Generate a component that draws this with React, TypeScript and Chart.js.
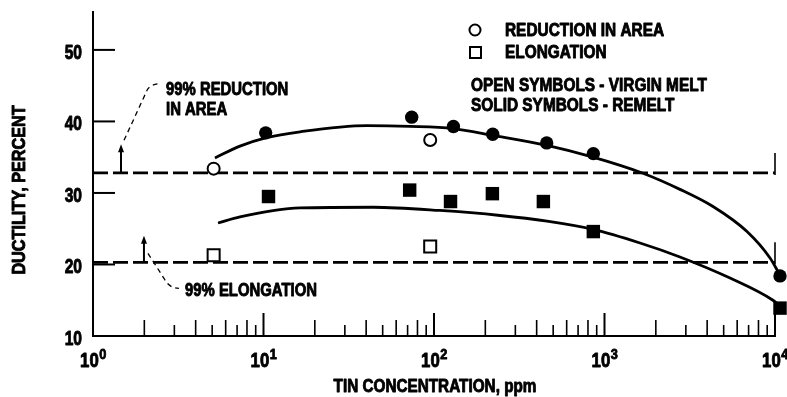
import React, { useEffect, useRef } from "react";
import { Chart, registerables } from "chart.js";

Chart.register(...registerables);

// ---- data ----
// remelt (solid symbols)
const remeltRAConc = [10.3, 74, 130, 221, 458, 860, 10700];
const remeltRA = [38.4, 40.6, 39.3, 38.2, 37.0, 35.5, 18.4];
const remeltElConc = [10.7, 72, 125, 220, 438, 860, 10700];
const remeltEl = [29.5, 30.4, 28.8, 29.9, 28.8, 24.6, 13.9];
// virgin melt (open symbols)
const virginRAConc = [5.1, 95];
const virginRA = [33.4, 37.4];
const virginElConc = [5.1, 95];
const virginEl = [21.3, 22.5];
// faired curves
const raCurveConc = [5.19, 7.28, 10.3, 16.4, 40.5, 72.3, 129, 222, 460, 856, 1680, 2770, 4330, 6850, 9350, 10700];
const raCurve = [34.9, 36.55, 37.7, 38.55, 39.4, 39.3, 39.0, 38.05, 36.65, 35.0, 32.75, 30.5, 28.1, 24.6, 20.9, 18.5];
const elCurveConc = [5.41, 7.28, 16.4, 43.9, 108, 244, 460, 856, 1615, 2770, 5450, 9730, 10700];
const elCurve = [25.8, 26.65, 27.9, 28.0, 27.55, 26.85, 26.05, 24.9, 23.0, 21.05, 18.1, 15.0, 14.2];
// 99% limit lines
const limitConc = [1, 10000];
const raLimit = 32.8;
const elLimit = 20.3;
const raArrowConc = 1.46;
const elArrowConc = 1.99;
const raArrowTop = 36.8;
const elArrowTop = 24.0;

// axes
const xMin = 1;
const xMax = 10000;
const yMin = 10;
const yMax = 55.3;
const yTickLabels = [10, 20, 30, 40, 50];
const xTickExponents = [0, 1, 2, 3, 4];

const xTitle = "TIN CONCENTRATION, ppm";
const yTitle = "DUCTILITY, PERCENT";
const raNote = ["99% REDUCTION", "IN AREA"];
const elNote = "99% ELONGATION";
const legendLines = ["REDUCTION IN AREA", "ELONGATION", "OPEN SYMBOLS - VIRGIN MELT", "SOLID SYMBOLS - REMELT"];

const FONT = '"Liberation Sans", Arial, sans-serif';

const pts = (xs: number[], ys: number[]) => xs.map((x, i) => ({ x, y: ys[i] }));

const decorPlugin = {
  id: "decor",
  afterDraw(chart: any) {
    const ctx: CanvasRenderingContext2D = chart.ctx;
    const xs = chart.scales.x;
    const ys = chart.scales.y;
    const { left, bottom } = chart.chartArea;
    const X = (v: number) => xs.getPixelForValue(v);
    const Y = (v: number) => ys.getPixelForValue(v);
    const line = (x1: number, y1: number, x2: number, y2: number) => {
      ctx.beginPath();
      ctx.moveTo(x1, y1);
      ctx.lineTo(x2, y2);
      ctx.stroke();
    };
    // narrow lettering: horizontally condensed, slightly emboldened text
    const txt = (
      s: string,
      x: number,
      y: number,
      size: number,
      squeeze: number,
      align: CanvasTextAlign = "left",
      rotate = false
    ) => {
      ctx.save();
      ctx.translate(x, y);
      if (rotate) ctx.rotate(-Math.PI / 2);
      ctx.scale(squeeze, 1);
      ctx.font = `bold ${size}px ${FONT}`;
      ctx.textAlign = align;
      ctx.textBaseline = "alphabetic";
      ctx.lineWidth = 0.9;
      ctx.lineJoin = "round";
      ctx.fillText(s, 0, 0);
      ctx.strokeText(s, 0, 0);
      ctx.restore();
    };
    const measure = (s: string, size: number, squeeze: number) => {
      ctx.font = `bold ${size}px ${FONT}`;
      return ctx.measureText(s).width * squeeze;
    };

    ctx.save();
    ctx.strokeStyle = "#000";
    ctx.fillStyle = "#000";
    ctx.lineCap = "butt";

    // inward y ticks + labels
    ctx.lineWidth = 2;
    for (const v of yTickLabels) {
      const py = Y(v);
      if (v !== yMin) {
        ctx.lineWidth = 2;
        line(left, py, left + 22, py);
      }
      txt(String(v), left - 11, py + 9, 19.5, 0.8, "right");
    }
    // inward x ticks
    for (let e = 0; e < 4; e++) {
      for (let m = 2; m <= 9; m++) {
        const px = X(m * Math.pow(10, e));
        ctx.lineWidth = 1.6;
        line(px, bottom, px, bottom - (m % 2 === 0 ? 16 : 11));
      }
    }
    ctx.lineWidth = 2;
    for (const e of xTickExponents) {
      if (e === 0) continue;
      const px = X(Math.pow(10, e));
      line(px, bottom, px, bottom - 23);
    }

    // x tick labels with superscripts
    for (const e of xTickExponents) {
      const px = X(Math.pow(10, e));
      const wb = measure("10", 21, 0.8);
      const we = measure(String(e), 15, 0.85);
      const x0 = px - (wb + we) / 2;
      txt("10", x0, bottom + 31, 21, 0.8);
      txt(String(e), x0 + wb + 0.5, bottom + 23, 15, 0.85);
    }

    // axis titles
    txt(xTitle, 435, 392, 18, 0.85, "center");
    txt(yTitle, 25, 190, 18, 0.9, "center", true);

    // end ticks of the limit lines
    ctx.lineWidth = 1.6;
    line(X(xMax), Y(raLimit) - 20, X(xMax), Y(raLimit) + 2);
    line(X(xMax), Y(elLimit) - 20, X(xMax), Y(elLimit) + 2);

    // arrows
    const arrow = (cx: number, yFrom: number, yTo: number) => {
      const px = X(cx);
      const p1 = Y(yFrom);
      const p2 = Y(yTo);
      ctx.lineWidth = 2;
      line(px, p1, px, p2 + 6);
      ctx.beginPath();
      ctx.moveTo(px, p2);
      ctx.lineTo(px - 3, p2 + 8);
      ctx.lineTo(px + 3, p2 + 8);
      ctx.closePath();
      ctx.fill();
    };
    arrow(raArrowConc, raLimit, raArrowTop);
    arrow(elArrowConc, elLimit, elArrowTop);

    // leader lines (dashed)
    ctx.lineWidth = 1.3;
    ctx.setLineDash([5, 4]);
    const ax1 = X(raArrowConc);
    const ay1 = Y(raArrowTop);
    ctx.beginPath();
    ctx.moveTo(ax1 + 3, ay1 - 4);
    ctx.lineTo(ax1 + 26, ay1 - 54);
    ctx.quadraticCurveTo(ax1 + 29, ay1 - 60, ax1 + 40, ay1 - 61);
    ctx.stroke();
    const ax2 = X(elArrowConc);
    const ay2 = Y(elLimit);
    ctx.beginPath();
    ctx.moveTo(ax2 + 4, ay2 - 9);
    ctx.lineTo(ax2 + 20, ay2 + 16);
    ctx.quadraticCurveTo(ax2 + 25, ay2 + 26, ax2 + 35, ay2 + 26);
    ctx.stroke();
    ctx.setLineDash([]);

    // annotation text
    txt(raNote[0], 166, 95, 17.5, 0.85);
    txt(raNote[1], 166, 115, 17.5, 0.85);
    txt(elNote, 185, 296, 17.5, 0.85);

    // legend
    ctx.lineWidth = 2;
    ctx.beginPath();
    ctx.arc(475, 30, 5.5, 0, Math.PI * 2);
    ctx.stroke();
    ctx.strokeRect(470, 47, 11, 11);
    txt(legendLines[0], 505, 36, 17.5, 0.88);
    txt(legendLines[1], 505, 58, 17.5, 0.88);
    txt(legendLines[2], 471, 91, 17.5, 0.88);
    txt(legendLines[3], 471, 111, 17.5, 0.88);
    ctx.restore();
  },
};

export default function App() {
  const ref = useRef<HTMLCanvasElement | null>(null);
  useEffect(() => {
    if (!ref.current) return;
    const black = "#000";
    const chart = new Chart(ref.current, {
      type: "scatter",
      data: {
        datasets: [
          {
            data: pts(remeltRAConc, remeltRA),
            pointStyle: "circle",
            pointRadius: 6.7,
            backgroundColor: black,
            borderColor: black,
            borderWidth: 0,
            clip: false,
          },
          {
            data: pts(remeltElConc, remeltEl),
            pointStyle: "rect",
            pointRadius: 9.5,
            backgroundColor: black,
            borderColor: black,
            borderWidth: 0,
            clip: false,
          },
          {
            data: pts(virginRAConc, virginRA),
            pointStyle: "circle",
            pointRadius: 6,
            backgroundColor: "#fff",
            borderColor: black,
            borderWidth: 2,
          },
          {
            data: pts(virginElConc, virginEl),
            pointStyle: "rect",
            pointRadius: 8.5,
            backgroundColor: "#fff",
            borderColor: black,
            borderWidth: 2,
          },
          {
            data: pts(raCurveConc, raCurve),
            showLine: true,
            pointRadius: 0,
            borderColor: black,
            borderWidth: 2.8,
            cubicInterpolationMode: "monotone",
            clip: false,
          },
          {
            data: pts(elCurveConc, elCurve),
            showLine: true,
            pointRadius: 0,
            borderColor: black,
            borderWidth: 2.8,
            cubicInterpolationMode: "monotone",
            clip: false,
          },
          {
            data: pts(limitConc, [raLimit, raLimit]),
            showLine: true,
            pointRadius: 0,
            borderColor: black,
            borderWidth: 2.8,
            borderDash: [15, 5],
          },
          {
            data: pts(limitConc, [elLimit, elLimit]),
            showLine: true,
            pointRadius: 0,
            borderColor: black,
            borderWidth: 2.8,
            borderDash: [15, 5],
          },
        ],
      },
      options: {
        animation: false,
        responsive: false,
        devicePixelRatio: 1,
        layout: { padding: { top: 12, right: 12, left: 0, bottom: 0 } },
        plugins: { legend: { display: false }, tooltip: { enabled: false } },
        scales: {
          x: {
            type: "logarithmic",
            min: xMin,
            max: xMax,
            ticks: { display: false },
            grid: { drawOnChartArea: false, drawTicks: false },
            border: { display: true, color: black, width: 2 },
            afterFit: (s: any) => {
              s.height = 61;
            },
          },
          y: {
            type: "linear",
            min: yMin,
            max: yMax,
            ticks: { display: false, stepSize: 10 },
            grid: { drawOnChartArea: false, drawTicks: false },
            border: { display: true, color: black, width: 2 },
            afterFit: (s: any) => {
              s.width = 93;
            },
          },
        },
      },
      plugins: [decorPlugin],
    } as any);
    return () => chart.destroy();
  }, []);
  return (
    <div style={{ position: "fixed", left: 0, top: 0, width: 787, height: 397, background: "#fff" }}>
      <canvas ref={ref} width={787} height={397} style={{ display: "block" }} />
    </div>
  );
}
